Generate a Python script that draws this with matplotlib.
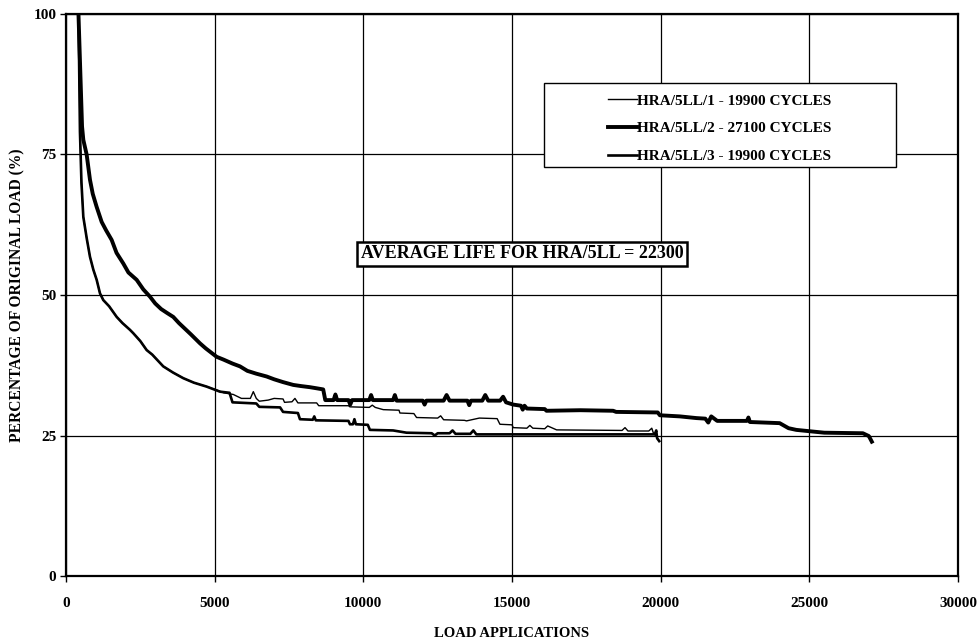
import numpy as np
import matplotlib.pyplot as plt
from matplotlib.patches import Rectangle

plt.rcParams['font.family'] = ['Liberation Serif', 'DejaVu Serif']
plt.rcParams['font.weight'] = 'bold'

# HRA/5LL/1 - thin trace
x1 = [420, 440, 470, 520, 583, 700, 807, 920, 1032, 1143, 1254, 1450, 1705, 1900, 2152, 2263, 2500,
      2713, 2900, 3271, 3600, 3944, 4300, 4730, 5067, 5300, 5627, 5900, 6200, 6300, 6400, 6500,
      6800, 7000, 7300, 7350, 7600, 7700, 7800, 8430, 8500, 9500, 9549, 10200, 10300, 10400,
      10670, 11200, 11230, 11700, 11790, 12500, 12600, 12700, 13400, 13470, 13900, 14500, 14593,
      15000, 15040, 15500, 15600, 15700, 16100, 16200, 16500, 18700, 18800, 18900, 19600, 19700,
      19750, 19900]
y1 = [100, 92, 79, 70, 63.9, 60, 56.8, 54.5, 52.7, 50.3, 49.1, 48, 46.1, 45, 43.8, 43.2, 41.8,
      40.2, 39.4, 37.3, 36.2, 35.2, 34.4, 33.7, 33.1, 32.6, 32.3, 31.6, 31.6, 32.8, 31.6, 31.1,
      31.3, 31.6, 31.5, 30.9, 31.0, 31.6, 30.8, 30.8, 30.3, 30.3, 30.1, 30.0, 30.4, 30.0,
      29.6, 29.5, 29.0, 28.9, 28.2, 28.1, 28.5, 27.8, 27.7, 27.6, 28.1, 28.0, 27.0,
      26.9, 26.4, 26.3, 26.8, 26.3, 26.2, 26.7, 26.0, 25.9, 26.4, 25.8, 25.8, 26.3,
      25.5, 24.5]

# HRA/5LL/2 - thick trace
x2 = [420, 480, 540, 583, 695, 807, 900, 1030, 1200, 1350, 1536, 1700, 1928, 2100, 2377, 2600,
      2825, 3000, 3200, 3400, 3608, 3800, 4000, 4200, 4506, 4700, 5067, 5300, 5600, 5851, 6100,
      6400, 6748, 7000, 7300, 7643, 7900, 8200, 8430, 8650, 8720, 9000, 9060, 9120, 9500, 9560,
      9620, 10200, 10260, 10320, 11000, 11060, 11120, 12000, 12060, 12120, 12700, 12800, 12900,
      13500, 13560, 13620, 14000, 14100, 14200, 14600, 14700, 14800, 15040, 15300, 15360, 15420,
      15500, 16100, 16160, 17300, 18400, 18500, 19900, 19973, 20645, 21200, 21500, 21600, 21700,
      21900, 22900, 22950, 23000, 24000, 24300, 24560, 25120, 25500, 26800, 27000, 27100]
y2 = [100, 90, 80, 77.6, 75, 70.5, 68, 65.7, 63, 61.5, 59.8, 57.5, 55.6, 54, 52.7, 51,
      49.7, 48.5, 47.5, 46.8, 46.1, 45, 44, 43, 41.4, 40.5, 39, 38.5, 37.8, 37.3, 36.5,
      36, 35.5, 35, 34.5, 34, 33.8, 33.6, 33.4, 33.2, 31.3, 31.3, 32.3, 31.3, 31.3, 30.5,
      31.3, 31.3, 32.2, 31.3, 31.3, 32.2, 31.2, 31.2, 30.5, 31.2, 31.2, 32.2, 31.2,
      31.2, 30.4, 31.2, 31.2, 32.2, 31.2, 31.2, 31.9, 30.9, 30.5, 30.3, 29.6, 30.3,
      29.8, 29.7, 29.4, 29.5, 29.4, 29.2, 29.1, 28.6, 28.4, 28.1, 28.0, 27.3, 28.4,
      27.6, 27.6, 28.2, 27.4, 27.2, 26.3, 26.0, 25.7, 25.5, 25.4, 24.9, 23.9]

# HRA/5LL/3 - medium trace
x3 = [420, 440, 470, 520, 583, 700, 807, 920, 1032, 1143, 1254, 1450, 1705, 1900, 2152, 2263, 2500,
      2713, 2900, 3271, 3600, 3944, 4300, 4730, 5178, 5500, 5600, 6400, 6500, 7200, 7300, 7800,
      7868, 8300, 8350, 8400, 9500, 9549, 9650, 9700, 9750, 10150, 10221, 11000, 11450, 12300,
      12400, 12500, 12900, 13000, 13100, 13600, 13700, 13800, 19800, 19850, 19880, 19950]
y3 = [100, 92, 79, 70, 63.9, 60, 56.8, 54.5, 52.7, 50.3, 49.1, 48, 46.1, 45, 43.8, 43.2, 41.8,
      40.2, 39.4, 37.3, 36.2, 35.2, 34.4, 33.7, 32.8, 32.6, 30.9, 30.7, 30.1, 30.0, 29.2, 29.0,
      27.9, 27.8, 28.4, 27.7, 27.6, 27.0, 27.0, 27.9, 27.0, 26.9, 26.0, 25.9, 25.5, 25.4,
      25.0, 25.4, 25.4, 25.9, 25.3, 25.3, 25.9, 25.2, 25.2, 25.9, 24.5, 24.0]

labels = ['HRA/5LL/1 - 19900 CYCLES', 'HRA/5LL/2 - 27100 CYCLES', 'HRA/5LL/3 - 19900 CYCLES']
widths = [1.0, 2.8, 1.9]

fig = plt.figure(figsize=(9.79, 6.42), dpi=100)
ax = fig.add_axes([0.0674, 0.1028, 0.9112, 0.8754])

for x, y, lab, lw in zip([x1, x2, x3], [y1, y2, y3], labels, widths):
    ax.plot(x, y, color='black', linewidth=lw, label=lab, zorder=3)

ax.set_xlim(0, 30000)
ax.set_ylim(0, 100)
ax.set_xticks(np.arange(0, 30001, 5000))
ax.set_yticks([0, 25, 50, 75, 100])
ax.grid(True, color='black', linewidth=0.9)
ax.tick_params(axis='both', direction='out', length=4, width=1, labelsize=11)
ax.tick_params(axis='x', pad=11)
ax.tick_params(axis='y', pad=3)
for s in ax.spines.values():
    s.set_linewidth(1.6)

ax.set_xlabel('LOAD APPLICATIONS', fontsize=10.5, fontweight='bold', labelpad=12)
ax.set_ylabel('PERCENTAGE OF ORIGINAL LOAD (%)', fontsize=11.2, fontweight='bold', labelpad=6)

# legend box with the entries pushed to the right
box = Rectangle((544 / 979, 1 - 167 / 642), 352 / 979, 84 / 642, transform=fig.transFigure,
                facecolor='white', edgecolor='black', linewidth=1.0, zorder=4, clip_on=False)
ax.add_artist(box)
leg = ax.legend(loc='upper left', bbox_to_anchor=(608 / 979, 1 - 94 / 642),
                bbox_transform=fig.transFigure, frameon=False, fontsize=11,
                handlelength=1.9, handletextpad=0.0, labelspacing=0.92,
                borderpad=0, borderaxespad=0)
leg.set_zorder(5)

ax.text(15333, 57.3, 'AVERAGE LIFE FOR HRA/5LL = 22300', fontsize=13, fontweight='bold',
        ha='center', va='center', zorder=5,
        bbox=dict(boxstyle='square,pad=0.2', facecolor='white', edgecolor='black', linewidth=1.8))

fig.savefig('out.png', dpi=100)
